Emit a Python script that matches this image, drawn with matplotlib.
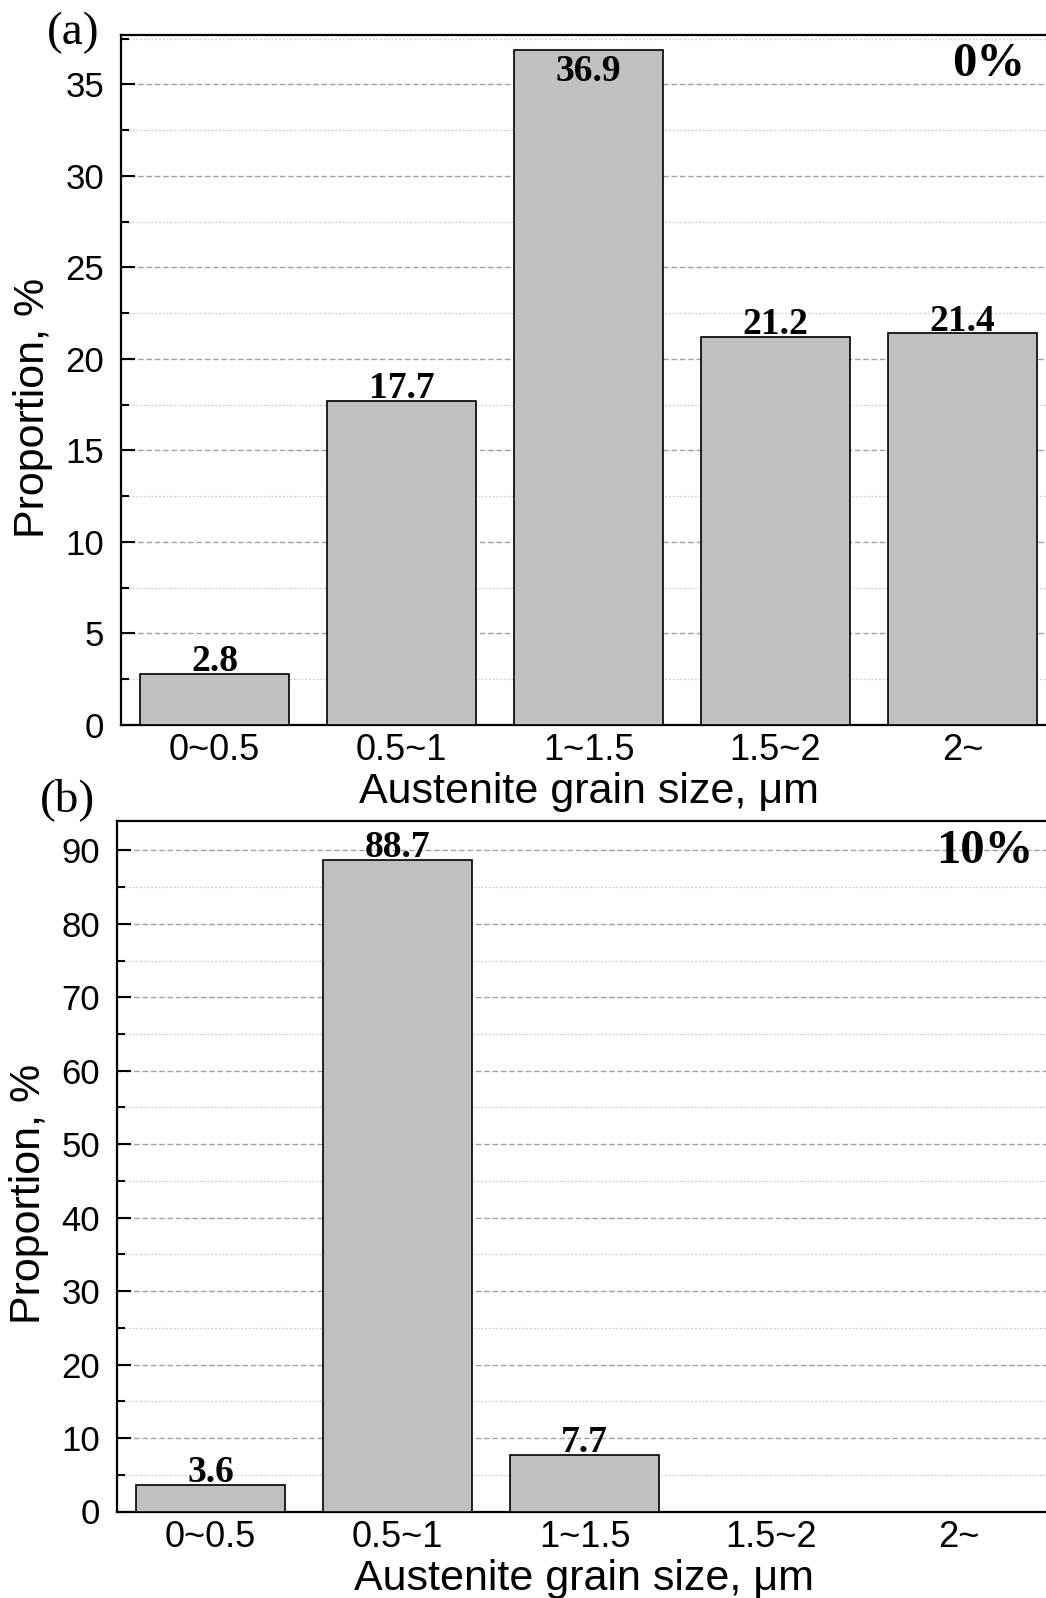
import numpy as np
import matplotlib.pyplot as plt
from matplotlib.ticker import MultipleLocator

# grain size classes
categories = ["0~0.5", "0.5~1", "1~1.5", "1.5~2", "2~"]

# proportions (%)
proportion0 = [2.8, 17.7, 36.9, 21.2, 21.4]
proportion10 = [3.6, 88.7, 7.7, 0.0, 0.0]

panelTags = ["(a)", "(b)"]
strainLabels = ["0%", "10%"]

SANS = "Liberation Sans"
SERIF = "Liberation Serif"
BAR_COLOR = "#c0c0c0"


def drawPanel(iAx, iValues, iYMax, iMajor, iCornerText, iCornerPos):
    x = np.arange(len(categories))

    iAx.set_axisbelow(True)
    iAx.bar(x, iValues, width=0.8, color=BAR_COLOR, edgecolor="black", linewidth=1.2, zorder=3)

    iAx.set_xlim(-0.5, len(categories) - 0.5)
    iAx.set_ylim(0, iYMax)
    iAx.yaxis.set_major_locator(MultipleLocator(iMajor))
    iAx.yaxis.set_minor_locator(MultipleLocator(iMajor / 2))

    iAx.grid(which="major", axis="y", color="#a0a0a0", linestyle=(0, (4, 2)), linewidth=1.0)
    iAx.grid(which="minor", axis="y", color="#cccccc", linestyle=(0, (1.5, 1.5)), linewidth=0.9)

    iAx.set_xticks(x)
    iAx.set_xticklabels(categories, fontfamily=SANS, fontsize=26)
    iAx.tick_params(axis="x", length=0, pad=6)
    iAx.tick_params(axis="y", which="major", direction="in", length=10, width=1.5, pad=12, labelsize=25)
    iAx.tick_params(axis="y", which="minor", direction="in", length=5.5, width=1.5)
    for label in iAx.get_yticklabels():
        label.set_fontfamily(SANS)

    for side in ["top", "left", "bottom"]:
        iAx.spines[side].set_linewidth(1.6)
    iAx.spines["right"].set_visible(False)

    iAx.set_xlabel("Austenite grain size, \u03bcm", fontfamily=SANS, fontsize=31, labelpad=3)
    iAx.set_ylabel("Proportion, %", fontfamily=SANS, fontsize=31)
    iAx.yaxis.set_label_coords(-0.073, 0.46)

    # value labels above the bars, inside when there is no room
    axesTop = iAx.transAxes.transform((0, 1))[1]
    for i, v in enumerate(iValues):
        if v <= 0:
            continue
        barTop = iAx.transData.transform((i, v))[1]
        if axesTop - barTop < 32:
            iAx.annotate("%.1f" % v, (i, v), xytext=(0, -3), textcoords="offset points",
                         ha="center", va="top", fontfamily=SERIF, fontweight="bold", fontsize=27, zorder=4)
        else:
            iAx.annotate("%.1f" % v, (i, v), xytext=(0, 2), textcoords="offset points",
                         ha="center", va="baseline", fontfamily=SERIF, fontweight="bold", fontsize=27, zorder=4)

    iAx.text(iCornerPos[0], iCornerPos[1], iCornerText, transform=iAx.transAxes, ha="right", va="baseline",
             fontfamily=SERIF, fontweight="bold", fontsize=35)


fig = plt.figure(figsize=(10.46, 15.98), dpi=100)
W, H = 1046.0, 1598.0

axA = fig.add_axes([121 / W, 1 - 725 / H, 935 / W, 690 / H])
axB = fig.add_axes([117 / W, 1 - 1511.5 / H, 935 / W, 690.5 / H])

drawPanel(axA, proportion0, 37.7, 5, strainLabels[0], (0.967, 0.94))
drawPanel(axB, proportion10, 94, 10, strainLabels[1], (0.980, 0.939))

fig.text(47 / W, 1 - 33 / H, panelTags[0], ha="left", va="center", fontfamily=SERIF, fontsize=34)
fig.text(40 / W, 1 - 800 / H, panelTags[1], ha="left", va="center", fontfamily=SERIF, fontsize=34)

fig.savefig("out.png", dpi=100, facecolor="white")
